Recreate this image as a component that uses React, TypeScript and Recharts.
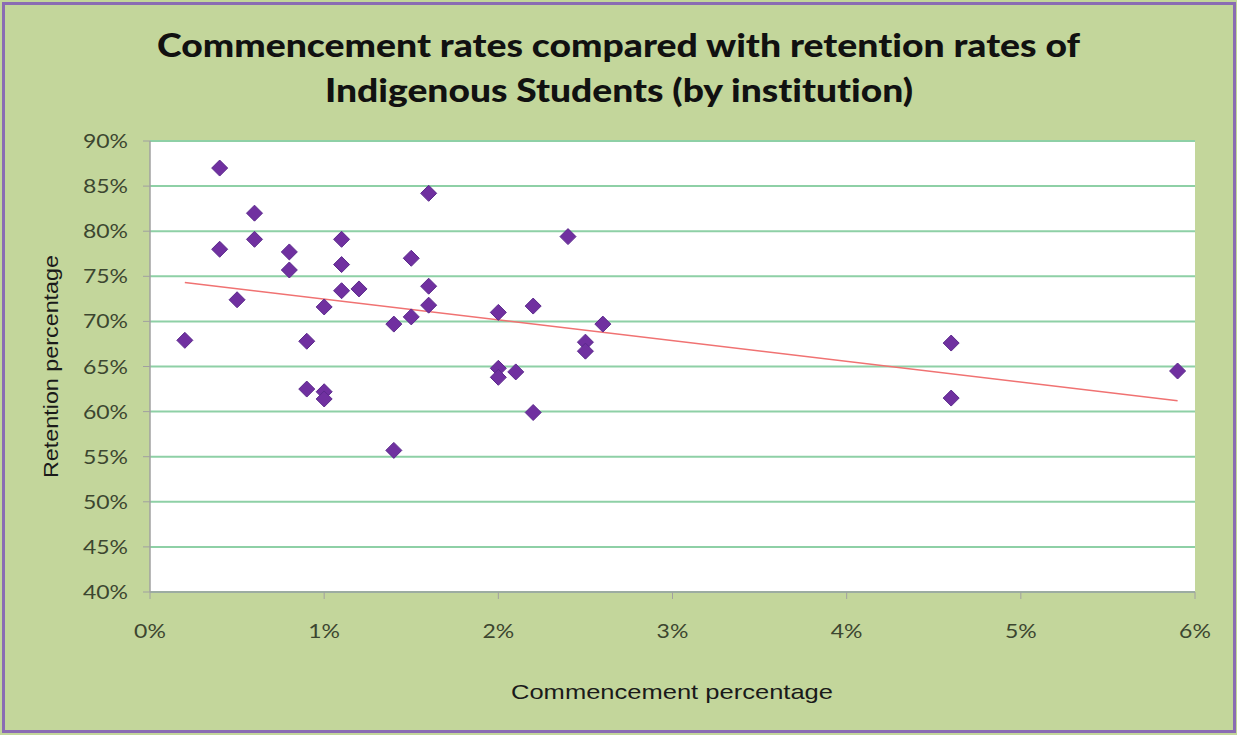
import React from "react";
import { ScatterChart, Scatter, XAxis, YAxis, CartesianGrid } from "recharts";

const commencement = [0.4, 1.6, 0.6, 0.4, 0.6, 0.8, 0.8, 1.1, 1.1, 1.1, 1.2, 1.5, 1.6, 1.6, 1.5, 1.4, 1.0, 0.5, 0.2, 0.9, 2.0, 2.2, 0.9, 1.0, 1.0, 1.4, 2.0, 2.0, 2.1, 2.2, 2.5, 2.5, 2.6, 2.4, 4.6, 4.6, 5.9];
const retention = [87.0, 84.2, 82.0, 78.0, 79.1, 77.7, 75.7, 79.1, 76.3, 73.4, 73.6, 77.0, 73.9, 71.8, 70.5, 69.7, 71.6, 72.4, 67.9, 67.8, 71.0, 71.7, 62.5, 62.2, 61.4, 55.7, 64.8, 63.8, 64.4, 59.9, 67.7, 66.7, 69.7, 79.4, 67.6, 61.5, 64.5];
const trendX = [0.2, 5.9];
const trendY = [74.3, 61.2];
const xTicks = [0, 1, 2, 3, 4, 5, 6];
const yTicks = [40, 45, 50, 55, 60, 65, 70, 75, 80, 85, 90];

const titleLines = ["Commencement rates compared with retention rates of", "Indigenous Students (by institution)"];
const xLabel = "Commencement percentage";
const yLabel = "Retention percentage";

const points = commencement.map((x, i) => ({ x, y: retention[i] }));
const trend = trendX.map((x, i) => ({ x, y: trendY[i] }));

const Diamond = (props: any) => {
  const { cx, cy } = props;
  if (cx == null || cy == null) return null;
  const r = 8;
  return (
    <polygon
      points={`${cx},${cy - r} ${cx + r},${cy} ${cx},${cy + r} ${cx - r},${cy}`}
      fill="#7030a0"
      stroke="#5b2a8c"
      strokeWidth={1}
    />
  );
};

const tickColor = "#3c4630";
const noLig: React.CSSProperties = { fontVariantLigatures: "none", fontFeatureSettings: '"liga" 0, "clig" 0' };

const XTick = (props: any) => {
  const { x, y, payload } = props;
  return (
    <g transform={`translate(${x},${y + 32}) scale(1.15,1)`}>
      <text x={0} y={0} dy="0.35em" textAnchor="middle" fontFamily="Lato" fontSize={20} fill={tickColor}>
        {payload.value + "%"}
      </text>
    </g>
  );
};

const YTick = (props: any) => {
  const { x, y, payload } = props;
  return (
    <g transform={`translate(${x - 15},${y}) scale(1.15,1)`}>
      <text x={0} y={0} dy="0.35em" textAnchor="end" fontFamily="Lato" fontSize={20} fill={tickColor}>
        {payload.value + "%"}
      </text>
    </g>
  );
};

export default function App() {
  return (
    <div style={{ position: "fixed", left: 0, top: 0, width: 1237, height: 735, background: "#c3d69b", overflow: "hidden" }}>
      <div style={{ position: "absolute", left: 0, top: 0 }}>
        <ScatterChart width={1237} height={735} margin={{ top: 141, right: 42, bottom: 0, left: 0 }}>
          <CartesianGrid horizontal vertical={false} fill="#ffffff" stroke="#8ed0a6" strokeWidth={2} />
          <XAxis
            type="number"
            dataKey="x"
            domain={[0, 6]}
            ticks={xTicks}
            interval={0}
            height={143}
            tickSize={7}
            tickMargin={0}
            tick={<XTick />}
            axisLine={{ stroke: "#a0a0a0", strokeWidth: 1.5 }}
            tickLine={{ stroke: "#a0a0a0" }}
            allowDataOverflow
          />
          <YAxis
            type="number"
            dataKey="y"
            domain={[40, 90]}
            ticks={yTicks}
            interval={0}
            width={150}
            tickSize={7}
            tickMargin={0}
            tick={<YTick />}
            axisLine={{ stroke: "#a0a0a0", strokeWidth: 1.5 }}
            tickLine={{ stroke: "#a0a0a0" }}
            allowDataOverflow
          />
          <Scatter data={trend} line={{ stroke: "#f07272", strokeWidth: 1.5 }} shape={() => null} isAnimationActive={false} />
          <Scatter data={points} shape={<Diamond />} isAnimationActive={false} />
        </ScatterChart>
      </div>
      <svg width={1237} height={735} style={{ position: "absolute", left: 0, top: 0, pointerEvents: "none" }}>
        <text x={618.5} y={57} textAnchor="middle" fontFamily="Lato" fontWeight="900" fontSize={32} fill="#111" textLength={923} lengthAdjust="spacingAndGlyphs" style={noLig}>
          {titleLines[0]}
        </text>
        <text x={619} y={102} textAnchor="middle" fontFamily="Lato" fontWeight="900" fontSize={32} fill="#111" textLength={588} lengthAdjust="spacingAndGlyphs" style={noLig}>
          {titleLines[1]}
        </text>
        <text x={672} y={699} textAnchor="middle" fontFamily="Liberation Sans" fontSize={21} fill="#1a1a1a" textLength={322} lengthAdjust="spacingAndGlyphs">
          {xLabel}
        </text>
        <text transform="translate(58,366.5) rotate(-90)" x={0} y={0} textAnchor="middle" fontFamily="Liberation Sans" fontSize={20} fill="#1a1a1a" textLength={223} lengthAdjust="spacingAndGlyphs">
          {yLabel}
        </text>
      </svg>
      <div style={{ position: "absolute", left: 2, top: 2, right: 1, bottom: 2, border: "3px solid #8a6cb3", pointerEvents: "none" }} />
    </div>
  );
}
